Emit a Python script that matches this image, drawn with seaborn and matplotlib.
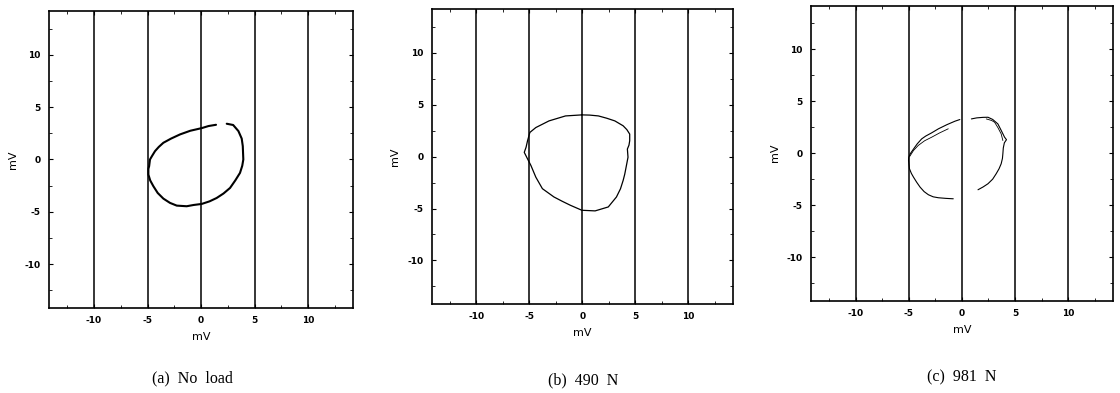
import numpy as np
import pandas as pd
import matplotlib
matplotlib.use("Agg")
import matplotlib.pyplot as plt
from matplotlib.ticker import MultipleLocator
import seaborn as sns

# Lissajous-style loops of the two sensor voltages (mV)
# (a) no load: single trace with a small gap at the top
a_x = [2.4, 3.0, 3.49, 3.8, 3.9, 3.95, 3.85, 3.64, 3.2, 2.71, 2.1, 1.46, 0.8, 0.06,
       -0.7, -1.34, -2.27, -2.9, -3.52, -4.05, -4.45, -4.75, -4.92, -4.92, -4.85,
       -4.77, -4.6, -4.3, -3.95, -3.52, -2.8, -1.96, -1.0, 0.06, 0.7, 1.4]
a_y = [3.42, 3.3, 2.72, 2.0, 1.28, 0.0, -0.6, -1.28, -2.0, -2.72, -3.25, -3.68,
       -4.0, -4.25, -4.35, -4.47, -4.41, -4.15, -3.74, -3.2, -2.56, -2.0, -1.44,
       -0.9, -0.64, 0.0, 0.3, 0.8, 1.2, 1.6, 2.0, 2.4, 2.75, 3.0, 3.2, 3.32]

# (b) 490 N: closed trace
b_x = [-0.04, -1.58, -3.14, -4.38, -4.94, -5.16, -5.3, -5.47, -5.16, -4.84, -4.38,
       -3.76, -2.67, -1.9, -1.12, -0.04, 1.21, 2.45, 3.22, 3.6, 3.85, 4.0, 4.1,
       4.31, 4.25, 4.4, 4.47, 4.47, 4.2, 3.85, 3.07, 2.3, 1.52, 0.7, -0.04]
b_y = [4.02, 3.92, 3.44, 2.8, 2.33, 1.53, 0.9, 0.41, -0.22, -0.86, -1.98, -3.09,
       -3.89, -4.3, -4.69, -5.17, -5.23, -4.85, -3.89, -3.1, -2.3, -1.7, -1.18,
       -0.06, 0.73, 1.1, 1.53, 2.17, 2.6, 2.97, 3.44, 3.7, 3.92, 4.0, 4.02]

# (c) 981 N: two overlapping passes with gaps at the top and lower right
c_right_x = [1.52, 2.0, 2.46, 2.9, 3.23, 3.5, 3.7, 3.82, 3.86, 3.9, 4.0, 4.2, 4.02,
             3.7, 3.39, 2.9, 2.46, 2.0, 1.4, 0.9]
c_right_y = [-3.52, -3.25, -2.94, -2.5, -1.98, -1.5, -1.02, -0.5, -0.06, 0.5, 1.0,
             1.3, 1.54, 2.2, 2.82, 3.25, 3.46, 3.45, 3.4, 3.3]
c_left_x = [-0.19, -0.65, -1.4, -2.2, -2.84, -3.4, -3.78, -4.2, -4.55, -4.86, -5.0,
            -5.02, -4.93, -4.75, -4.55, -4.25, -3.93, -3.55, -3.15, -2.7, -2.21,
            -1.5, -0.81]
c_left_y = [3.24, 3.08, 2.75, 2.35, 1.96, 1.65, 1.38, 0.9, 0.4, -0.06, -0.4, -0.7,
            -1.5, -1.95, -2.31, -2.8, -3.27, -3.7, -4.0, -4.2, -4.29, -4.35, -4.39]
c_inner_left_x = [-4.9, -4.55, -4.1, -3.5, -2.84, -2.1, -1.28]
c_inner_left_y = [-0.3, 0.26, 0.75, 1.2, 1.54, 1.95, 2.35]
c_inner_right_x = [2.3, 2.8, 3.08, 3.4, 3.7, 3.86]
c_inner_right_y = [3.3, 3.15, 2.98, 2.45, 1.86, 1.22]

panel_titles = ["(a)  No  load", "(b)  490  N", "(c)  981  N"]
major_ticks = [-10, -5, 0, 5, 10]
axis_label = "mV"

panels = [
    [(a_x, a_y, 1.5)],
    [(b_x, b_y, 0.9)],
    [(c_right_x, c_right_y, 0.8), (c_left_x, c_left_y, 0.8),
     (c_inner_left_x, c_inner_left_y, 0.6), (c_inner_right_x, c_inner_right_y, 0.6)],
]

sns.set_theme(style="ticks")
plt.rcParams["font.family"] = ["DejaVu Sans"]
plt.rcParams["text.color"] = "black"
plt.rcParams["axes.labelcolor"] = "black"

fig = plt.figure(figsize=(11.2, 3.93), dpi=100)
# axes boxes in figure fractions: left, bottom, width, height
boxes = [
    [0.0438, 0.2163, 0.2714, 0.7557],
    [0.3854, 0.2265, 0.2690, 0.7500],
    [0.7241, 0.2349, 0.2694, 0.7506],
]
caption_x = [192, 583, 962]
caption_y = [378, 380, 377]

for i, (box, traces) in enumerate(zip(boxes, panels)):
    ax = fig.add_axes(box)
    ax.set_xlim(-14.2, 14.2)
    ax.set_ylim(-14.2, 14.2)
    for xv in major_ticks:
        ax.axvline(xv, color="black", lw=1.1, zorder=1)
    for tx, ty, lw in traces:
        df = pd.DataFrame({"x": tx, "y": ty})
        sns.lineplot(data=df, x="x", y="y", sort=False, estimator=None,
                     color="black", lw=lw, ax=ax, zorder=3)
    ax.xaxis.set_minor_locator(MultipleLocator(2.5))
    ax.yaxis.set_minor_locator(MultipleLocator(2.5))
    ax.set_xticks(major_ticks)
    ax.set_yticks(major_ticks)
    ax.set_xticklabels([str(v) for v in major_ticks])
    ax.set_yticklabels([str(v) for v in major_ticks])
    ax.tick_params(which="major", direction="in", length=3, width=0.8,
                   top=True, right=True, labelsize=6.5, pad=6, colors="black")
    ax.tick_params(which="minor", direction="in", length=2, width=0.7,
                   top=True, right=True)
    for lbl in ax.get_xticklabels() + ax.get_yticklabels():
        lbl.set_fontweight("bold")
    for sp in ax.spines.values():
        sp.set_visible(True)
        sp.set_linewidth(1.2)
        sp.set_color("black")
    ax.set_xlabel(axis_label, fontsize=8, labelpad=5, color="black")
    ax.set_ylabel(axis_label, fontsize=8, labelpad=5, color="black")
    ax.grid(False)
    fig.text(caption_x[i] / 1120, 1 - caption_y[i] / 393, panel_titles[i],
             ha="center", va="center", fontsize=11.5, color="black",
             family="Liberation Serif")

fig.savefig("out.png", dpi=100)
